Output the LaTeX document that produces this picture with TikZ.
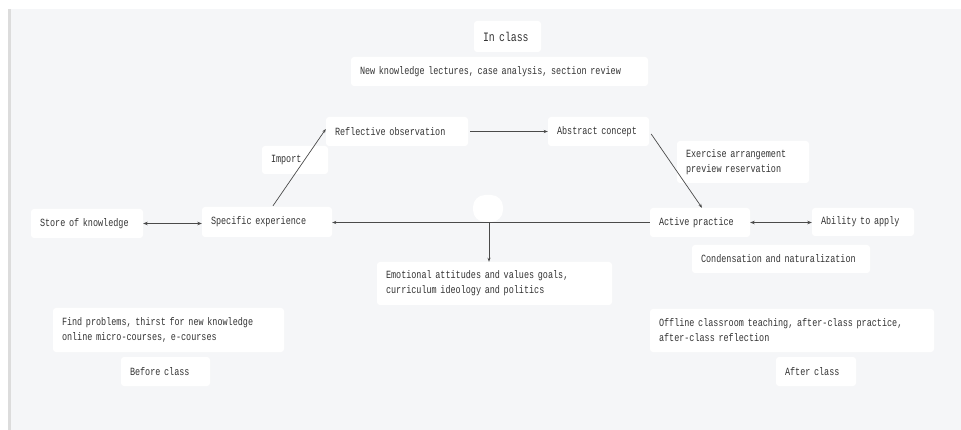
\documentclass[tikz,border=0pt]{standalone}
\usepackage{fontspec}
\usetikzlibrary{arrows.meta,calc}
\newfontfamily\monof[FakeStretch=0.77]{Liberation Mono}
\definecolor{bgc}{HTML}{F5F6F8}
\definecolor{barc}{HTML}{DCDCDC}
\definecolor{txtc}{HTML}{333333}
\definecolor{linec}{HTML}{4A4A4A}
\tikzset{
  box/.style={fill=white, rounded corners=3pt, draw=none, inner xsep=9pt, inner ysep=0pt,
    align=left, text=txtc, font=\monof\fontsize{11}{15}\selectfont},
  arr/.style={draw=linec, line width=0.7pt, -{Stealth[length=4pt,width=3pt]}},
  darr/.style={draw=linec, line width=1.2pt, {Stealth[length=4.5pt,width=3.5pt]}-{Stealth[length=4.5pt,width=3.5pt]}},
  plain/.style={draw=linec, line width=0.7pt}
}
\begin{document}
\begin{tikzpicture}[x=1pt,y=1pt]
\useasboundingbox (0,0) rectangle (961,-430);
\fill[white] (0,0) rectangle (961,-430);
\fill[bgc] (8,-9) rectangle (961,-430);
\fill[barc] (8,-9) rectangle (11,-430);

\node[box, text width=49pt, minimum height=31pt, font=\monof\fontsize{12.8}{15}\selectfont] (inclass) at (507.5,-36.5) {In class};
\node[box, text width=279pt, minimum height=29pt] (newk) at (499.5,-71.5) {\mbox{New knowledge lectures, case analysis, section review}};
\node[box, text width=124pt, minimum height=29pt] (refl) at (397,-131.5) {\mbox{Reflective observation}};
\node[box, text width=83pt, minimum height=29pt] (abst) at (598.5,-131.5) {\mbox{Abstract concept}};
\node[box, text width=48pt, minimum height=28pt] (import) at (295,-160) {Import};
\node[box, text width=94pt, minimum height=29pt] (store) at (87,-223.5) {\mbox{Store of knowledge}};
\node[box, text width=112pt, minimum height=30pt] (spec) at (267,-222) {\mbox{Specific experience}};
\node[box, text width=82pt, minimum height=29pt] (active) at (700,-222.5) {\mbox{Active practice}};
\node[box, text width=84pt, minimum height=28pt] (ability) at (863,-222) {\mbox{Ability to apply}};
\node[box, text width=114pt, minimum height=42pt] (exer) at (743,-162) {\mbox{Exercise arrangement}\\\mbox{preview reservation}};
\node[box, text width=160pt, minimum height=28pt] (cond) at (781,-259) {\mbox{Condensation and naturalization}};
\node[box, text width=217pt, minimum height=43pt] (emot) at (494.5,-283.5) {\mbox{Emotional attitudes and values goals,}\\\mbox{curriculum ideology and politics}};
\node[box, text width=213pt, minimum height=44pt] (find) at (168.5,-330) {\mbox{Find problems, thirst for new knowledge}\\\mbox{online micro-courses, e-courses}};
\node[box, text width=71pt, minimum height=29pt] (before) at (165.5,-371.5) {\mbox{Before class}};
\node[box, text width=266pt, minimum height=43pt] (offline) at (792,-330.5) {\mbox{Offline classroom teaching, after-class practice,}\\\mbox{after-class reflection}};
\node[box, text width=62pt, minimum height=29pt] (after) at (816,-371.5) {\mbox{After class}};
\node[fill=white, rounded corners=12pt, minimum width=30pt, minimum height=27pt, inner sep=0pt] (blob) at (488,-208.5) {};

% connectors
\draw[darr] (store.east) -- (store.east -| spec.west);
\draw[arr] (active.west) -- (active.west -| spec.east);
\coordinate (j) at (489,-222.5);
\draw[arr] (j) -- (j |- emot.north);
\draw[arr] ($(spec.north)+(6,1)$) -- ($(refl.west)+(0,2.5)$);
\draw[arr] ($(refl.east)+(2,0)$) -- (abst.west);
\draw[arr] ($(abst.east)+(2,-2.5)$) -- ($(active.north)+(2,0)$);
\draw[darr] (active.east) -- (active.east -| ability.west);
\end{tikzpicture}
\end{document}
